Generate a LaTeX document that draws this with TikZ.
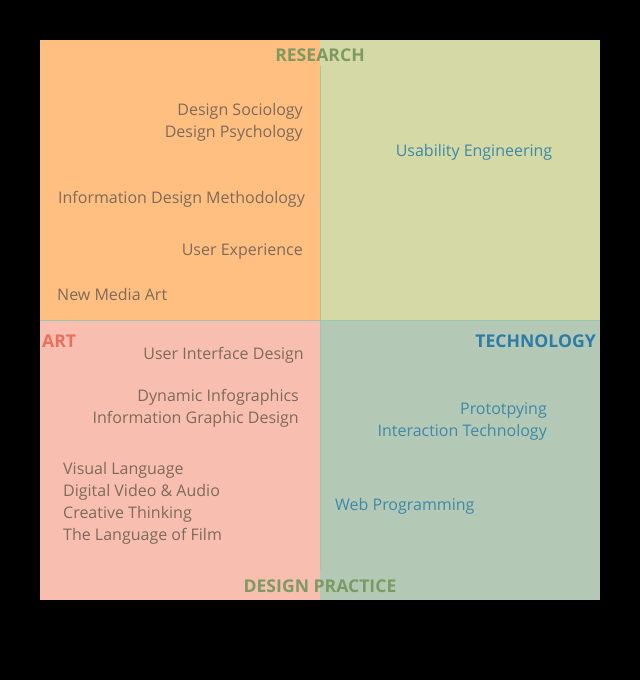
\documentclass[tikz,border=0pt]{standalone}
\usepackage{fontspec}
\setmainfont{Open Sans}
\usepackage{tikz}
\definecolor{resfill}{HTML}{FFBF80}
\definecolor{usefill}{HTML}{D4D9A5}
\definecolor{artfill}{HTML}{F8BFB0}
\definecolor{techfill}{HTML}{B3C9B5}
\definecolor{divline}{HTML}{9CC8B0}
\definecolor{browntext}{HTML}{7E6A5B}
\definecolor{bluetext}{HTML}{3E89A8}
\definecolor{greenhead}{HTML}{7D9A62}
\definecolor{redhead}{HTML}{E8705E}
\definecolor{bluehead}{HTML}{2C7CA8}

\begin{document}
\begin{tikzpicture}[x=1pt,y=-1pt]
      \tikzset{
        topic/.style={inner sep=0pt, font=\fontsize{16}{22}\selectfont, text=browntext},
        tech/.style={topic, text=bluetext},
        head/.style={inner sep=0pt, font=\fontsize{17.6}{22}\selectfont\bfseries},
      }
      \fill[black] (0,0) rectangle (640,680);
      \useasboundingbox (0,0) rectangle (640,680);
      % quadrants
      \fill[resfill] (40,40) rectangle (320,320);
      \fill[usefill] (320,40) rectangle (600,320);
      \fill[artfill] (40,320) rectangle (320,600);
      \fill[techfill] (320,320) rectangle (600,600);
      \draw[divline, line width=0.8pt] (320,66) -- (320,570);
      \draw[divline, line width=0.8pt] (40,320) -- (600,320);

      \node [head, text=greenhead] (research) at (320,55) {RESEARCH};
      \node [head, text=greenhead] (practice) at (320,586) {DESIGN PRACTICE};
      \node [head, text=redhead, anchor=west] (art) at (42,341) {ART};
      \node [head, text=bluehead, anchor=east] (technology) at (596,341) {TECHNOLOGY};

      \node [topic, align=right, anchor=east] (psych) at (303,122) {Design Sociology\\Design Psychology};
      \node [topic, anchor=east] (method) at (305,199) {Information Design Methodology};
      \node [topic, anchor=east] (ux) at (303,252) {User Experience};
      \node [topic, anchor=west] (media) at (57,294) {New Media Art};

      \node [tech] (usability) at (474,152) {Usability Engineering};

      \node [topic, anchor=east] (uid) at (304,355) {User Interface Design};
      \node [topic, align=right, anchor=east] (infographic) at (299,408) {Dynamic Infographics\\Information Graphic Design};
      \node [topic, align=left, anchor=west] (film) at (63,503) {Visual Language\\Digital Video \& Audio\\Creative Thinking\\The Language of Film};

      \node [tech, align=right, anchor=east] (proto) at (547,422) {Prototpying\\Interaction Technology};
      \node [tech, anchor=west] (web) at (335,506) {Web Programming};
\end{tikzpicture}
\end{document}
